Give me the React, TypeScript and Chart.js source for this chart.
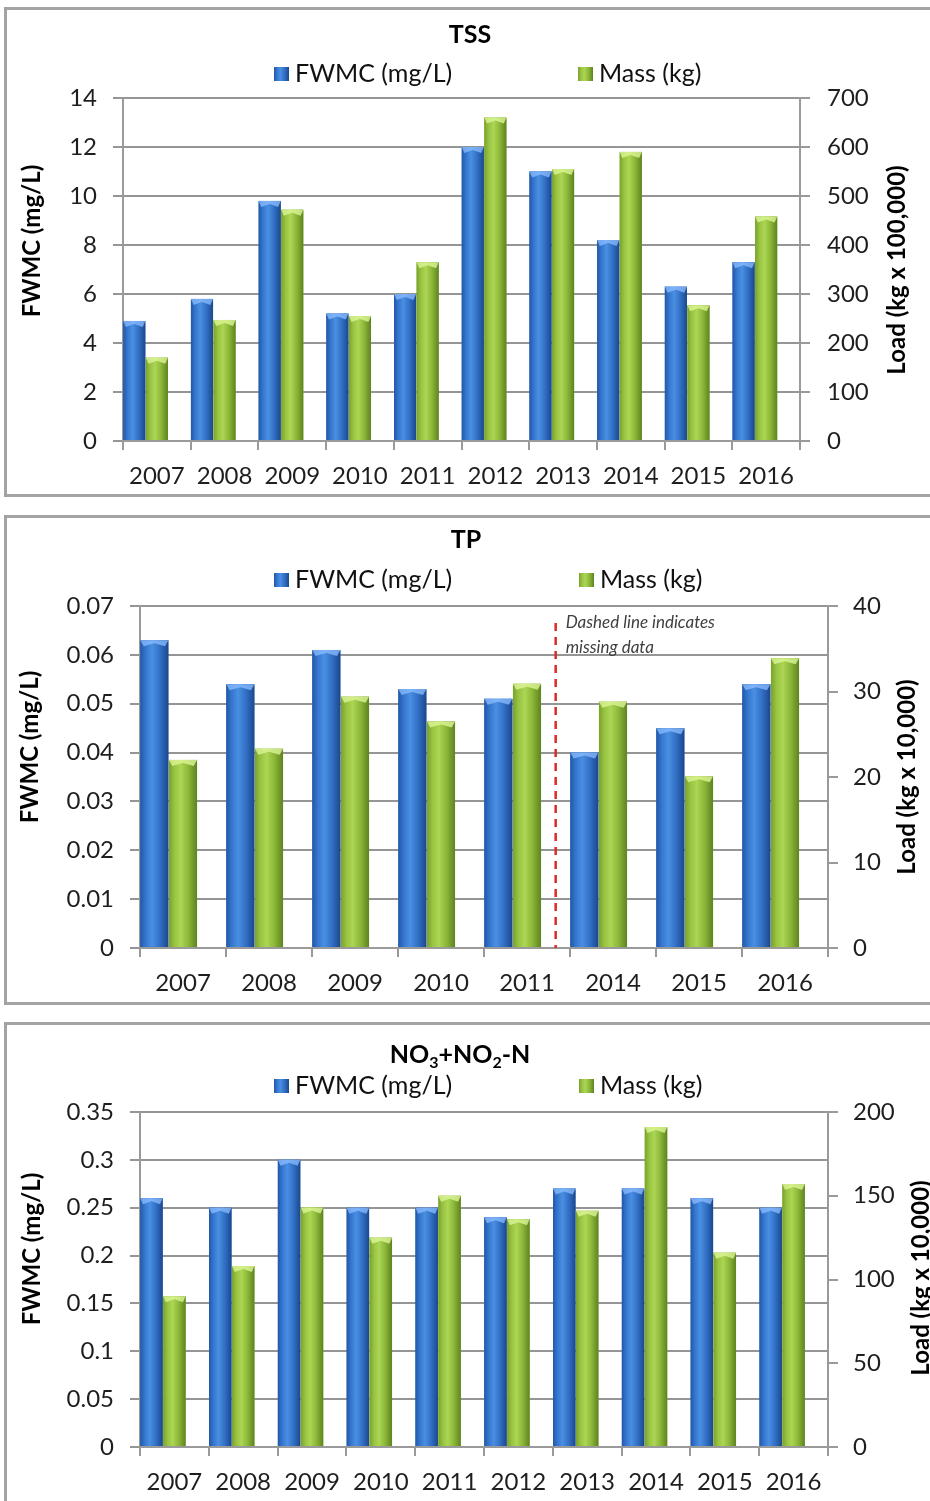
import React, { useEffect, useRef } from 'react';
import { Chart, registerables } from 'chart.js';

Chart.register(...registerables);

// ---------- DATA ----------
const tssYears = ['2007', '2008', '2009', '2010', '2011', '2012', '2013', '2014', '2015', '2016'];
const tssFwmc = [4.9, 5.8, 9.8, 5.2, 6.0, 12.0, 11.0, 8.2, 6.3, 7.3];
const tssMass = [170, 247, 472, 255, 365, 660, 555, 590, 277, 458];
const tssLeftTicks = [0, 2, 4, 6, 8, 10, 12, 14];
const tssRightTicks = [0, 100, 200, 300, 400, 500, 600, 700];

const tpYears = ['2007', '2008', '2009', '2010', '2011', '2014', '2015', '2016'];
const tpFwmc = [0.063, 0.054, 0.061, 0.053, 0.051, 0.04, 0.045, 0.054];
const tpMass = [22.0, 23.3, 29.4, 26.5, 30.9, 28.8, 20.1, 33.9];
const tpLeftTicks = [0, 0.01, 0.02, 0.03, 0.04, 0.05, 0.06, 0.07];
const tpRightTicks = [0, 10, 20, 30, 40];
const tpGapIndex = 4; // missing data after 2011
const tpDashTopValue = 0.0665;
const tpNote = ['Dashed line indicates', 'missing data'];

const noYears = ['2007', '2008', '2009', '2010', '2011', '2012', '2013', '2014', '2015', '2016'];
const noFwmc = [0.26, 0.25, 0.3, 0.25, 0.25, 0.24, 0.27, 0.27, 0.26, 0.25];
const noMass = [90, 108, 143, 125, 150, 136, 141, 191, 116, 157];
const noLeftTicks = [0, 0.05, 0.1, 0.15, 0.2, 0.25, 0.3, 0.35];
const noRightTicks = [0, 50, 100, 150, 200];

const seriesLabels = ['FWMC (mg/L)', 'Mass (kg)'];
const leftTitle = 'FWMC (mg/L)';

// ---------- STYLE ----------
const FONT = 'Lato, Carlito, "Liberation Sans", sans-serif';
const TICK = '#1e1e1e';
const GRID = '#959595';
const AXIS = '#9a9a9a';
const BLUE = '#3172c8';
const GREEN = '#8fbc3c';
const BLUE_STOPS: [number, string][] = [
  [0, '#2357a6'], [0.2, '#3577d0'], [0.42, '#4a8fe2'], [0.7, '#3170c6'], [1, '#1c478c'],
];
const GREEN_STOPS: [number, string][] = [
  [0, '#7aa12d'], [0.2, '#98c441'], [0.42, '#acd654'], [0.7, '#8bb637'], [1, '#5e8320'],
];

type Seg = { t: string; sub?: boolean };
type Spec = {
  top: number; h: number;
  area: { left: number; right: number; top: number; bottom: number };
  labels: string[]; fwmc: number[]; mass: number[];
  leftTicks: number[]; rightTicks: number[];
  title: Seg[]; titleX: number; titleY: number;
  legendY: number; legendX: [number, number];
  leftTitleX: number; leftTitleY: number;
  rightTitle: string; rightTitleX: number; rightTitleY: number;
  rightPad: number;
  gap?: boolean;
};

const specs: Spec[] = [
  {
    top: 0, h: 505,
    area: { left: 123, right: 800, top: 98, bottom: 441 },
    labels: tssYears, fwmc: tssFwmc, mass: tssMass,
    leftTicks: tssLeftTicks, rightTicks: tssRightTicks,
    title: [{ t: 'TSS' }], titleX: 470, titleY: 35,
    legendY: 74, legendX: [274, 578],
    leftTitleX: 32, leftTitleY: 241,
    rightTitle: 'Load (kg x 100,000)', rightTitleX: 897, rightTitleY: 270,
    rightPad: 17,
  },
  {
    top: 505, h: 505,
    area: { left: 140, right: 828, top: 101, bottom: 443 },
    labels: tpYears, fwmc: tpFwmc, mass: tpMass,
    leftTicks: tpLeftTicks, rightTicks: tpRightTicks,
    title: [{ t: 'TP' }], titleX: 466, titleY: 35,
    legendY: 75, legendX: [274, 579],
    leftTitleX: 30, leftTitleY: 242,
    rightTitle: 'Load (kg x 10,000)', rightTitleX: 907, rightTitleY: 272,
    rightPad: 15,
    gap: true,
  },
  {
    top: 1010, h: 491,
    area: { left: 140, right: 828, top: 102, bottom: 437 },
    labels: noYears, fwmc: noFwmc, mass: noMass,
    leftTicks: noLeftTicks, rightTicks: noRightTicks,
    title: [{ t: 'NO' }, { t: '3', sub: true }, { t: '+NO' }, { t: '2', sub: true }, { t: '-N' }],
    titleX: 460, titleY: 45,
    legendY: 76, legendX: [274, 579],
    leftTitleX: 32, leftTitleY: 239,
    rightTitle: 'Load (kg x 10,000)', rightTitleX: 921, rightTitleY: 268,
    rightPad: 15,
  },
];

const fmt = (v: number) => String(Number(Number(v).toFixed(3)));

function shadeGradient(ctx: CanvasRenderingContext2D, l: number, r: number, stops: [number, string][]) {
  const g = ctx.createLinearGradient(l, 0, r, 0);
  stops.forEach(([o, c]) => g.addColorStop(o, c));
  return g;
}

const barShade = {
  id: 'barShade',
  afterDatasetsDraw(chart: any) {
    const ctx: CanvasRenderingContext2D = chart.ctx;
    [0, 1].forEach((di) => {
      const meta = chart.getDatasetMeta(di);
      const stops = di === 0 ? BLUE_STOPS : GREEN_STOPS;
      const cap = di === 0 ? 'rgba(140,190,255,0.75)' : 'rgba(220,245,150,0.8)';
      meta.data.forEach((el: any) => {
        const { x, y, base, width } = el.getProps(['x', 'y', 'base', 'width'], true);
        if (y == null || isNaN(y)) return;
        const l = x - width / 2;
        const r = x + width / 2;
        ctx.save();
        ctx.fillStyle = shadeGradient(ctx, l, r, stops);
        ctx.fillRect(l, y, width, base - y);
        ctx.fillStyle = cap;
        ctx.beginPath();
        ctx.moveTo(l, y);
        ctx.lineTo(r, y);
        ctx.lineTo(r - width * 0.12, y + 6);
        ctx.lineTo(x, y + 3);
        ctx.lineTo(l + width * 0.12, y + 6);
        ctx.closePath();
        ctx.fill();
        ctx.restore();
      });
    });
  },
};

function makeDecor(spec: Spec) {
  return {
    id: 'decor',
    afterDraw(chart: any) {
      const ctx: CanvasRenderingContext2D = chart.ctx;
      ctx.save();
      ctx.fillStyle = '#000';
      ctx.textBaseline = 'middle';
      // title with optional subscripts
      const big = `bold 25px ${FONT}`;
      const small = `bold 16px ${FONT}`;
      let total = 0;
      spec.title.forEach((s) => {
        ctx.font = s.sub ? small : big;
        total += ctx.measureText(s.t).width;
      });
      let tx = spec.titleX - total / 2;
      ctx.textAlign = 'left';
      spec.title.forEach((s) => {
        ctx.font = s.sub ? small : big;
        ctx.fillText(s.t, tx, spec.titleY + (s.sub ? 8 : 0));
        tx += ctx.measureText(s.t).width;
      });
      // legend
      ctx.font = `25px ${FONT}`;
      [0, 1].forEach((i) => {
        const bx = spec.legendX[i];
        const by = spec.legendY - 7;
        ctx.fillStyle = shadeGradient(ctx, bx, bx + 15, i === 0 ? BLUE_STOPS : GREEN_STOPS);
        ctx.fillRect(bx, by, 15, 14);
        ctx.fillStyle = '#111';
        ctx.fillText(chart.data.datasets[i].label, bx + 21, spec.legendY);
      });
      // axis titles
      ctx.font = `bold 24px ${FONT}`;
      ctx.fillStyle = '#000';
      ctx.textAlign = 'center';
      ctx.save();
      ctx.translate(spec.leftTitleX, spec.leftTitleY);
      ctx.rotate(-Math.PI / 2);
      ctx.fillText(leftTitle, 0, 0);
      ctx.restore();
      ctx.save();
      ctx.translate(spec.rightTitleX, spec.rightTitleY);
      ctx.rotate(-Math.PI / 2);
      ctx.fillText(spec.rightTitle, 0, 0);
      ctx.restore();
      // dashed missing-data line
      if (spec.gap) {
        const el = chart.getDatasetMeta(2).data[tpGapIndex];
        const dx = el.x;
        const ys = chart.scales.y;
        const yTop = ys.getPixelForValue(tpDashTopValue);
        const yBot = ys.getPixelForValue(0);
        ctx.strokeStyle = '#e02828';
        ctx.lineWidth = 2.5;
        ctx.setLineDash([8, 6]);
        ctx.beginPath();
        ctx.moveTo(dx, yTop);
        ctx.lineTo(dx, yBot);
        ctx.stroke();
        ctx.setLineDash([]);
        ctx.font = `italic 17px ${FONT}`;
        ctx.fillStyle = '#404040';
        ctx.textAlign = 'left';
        ctx.fillText(tpNote[0], dx + 10, yTop - 1);
        ctx.fillText(tpNote[1], dx + 10, yTop + 24);
      }
      ctx.restore();
    },
  };
}

function makeConfig(spec: Spec): any {
  const W = 930;
  const tickFont = { family: FONT, size: 24 };
  return {
    type: 'bar',
    data: {
      labels: spec.labels,
      datasets: [
        { label: seriesLabels[0], data: spec.fwmc, yAxisID: 'y', backgroundColor: BLUE, borderWidth: 0 },
        { label: seriesLabels[1], data: spec.mass, yAxisID: 'y1', backgroundColor: GREEN, borderWidth: 0 },
        { label: '', data: spec.labels.map(() => null), yAxisID: 'y', backgroundColor: 'rgba(0,0,0,0)', borderWidth: 0 },
      ],
    },
    options: {
      responsive: false,
      animation: false,
      devicePixelRatio: 1,
      layout: { padding: { left: 0, right: 0, top: spec.area.top, bottom: 0 } },
      datasets: { bar: { categoryPercentage: 1, barPercentage: 0.98 } },
      plugins: { legend: { display: false }, title: { display: false }, tooltip: { enabled: false } },
      scales: {
        x: {
          grid: { drawOnChartArea: false, drawTicks: true, tickLength: 9, color: AXIS, lineWidth: 2, offset: true },
          border: { display: true, color: AXIS, width: 2 },
          ticks: { font: tickFont, color: TICK, padding: 12, maxRotation: 0, autoSkip: false },
          afterFit: (s: any) => { s.height = spec.h - spec.area.bottom; },
        },
        y: {
          position: 'left',
          min: 0,
          max: spec.leftTicks[spec.leftTicks.length - 1],
          afterBuildTicks: (s: any) => { s.ticks = spec.leftTicks.map((v) => ({ value: v })); },
          ticks: { font: tickFont, color: TICK, padding: 16, callback: (v: number) => fmt(v) },
          grid: { color: GRID, lineWidth: 2, drawTicks: true, tickLength: 10 },
          border: { display: true, color: AXIS, width: 2 },
          afterFit: (s: any) => { s.width = spec.area.left; },
        },
        y1: {
          position: 'right',
          min: 0,
          max: spec.rightTicks[spec.rightTicks.length - 1],
          afterBuildTicks: (s: any) => { s.ticks = spec.rightTicks.map((v) => ({ value: v })); },
          ticks: { font: tickFont, color: TICK, padding: spec.rightPad, callback: (v: number) => fmt(v) },
          grid: { drawOnChartArea: false, drawTicks: true, tickLength: 10, color: AXIS, lineWidth: 2 },
          border: { display: true, color: AXIS, width: 2 },
          afterFit: (s: any) => { s.width = W - spec.area.right; },
        },
      },
    },
    plugins: [barShade, makeDecor(spec)],
  };
}

function Panel({ spec }: { spec: Spec }) {
  const ref = useRef<HTMLCanvasElement>(null);
  useEffect(() => {
    const chart = new Chart(ref.current as HTMLCanvasElement, makeConfig(spec));
    return () => chart.destroy();
  }, [spec]);
  return (
    <canvas
      ref={ref}
      width={930}
      height={spec.h}
      style={{ position: 'absolute', left: 0, top: spec.top, width: 930, height: spec.h }}
    />
  );
}

const frames = [
  { top: 7, height: 490 },
  { top: 515, height: 490 },
  { top: 1022, height: 520 },
];

export default function App() {
  return (
    <div style={{ position: 'absolute', left: 0, top: 0, width: 930, height: 1501, overflow: 'hidden', background: '#fff' }}>
      {frames.map((f, i) => (
        <div
          key={i}
          style={{
            position: 'absolute', left: 4, top: f.top, width: 960, height: f.height,
            boxSizing: 'border-box', border: '3px solid #a3a3a3',
          }}
        />
      ))}
      {specs.map((s, i) => (
        <Panel key={i} spec={s} />
      ))}
    </div>
  );
}
